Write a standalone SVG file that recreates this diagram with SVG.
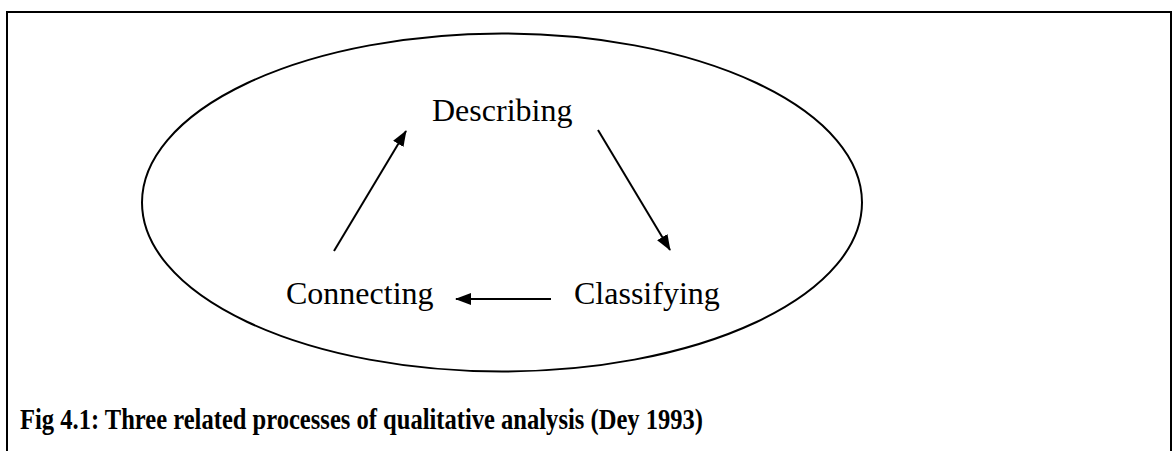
<svg xmlns="http://www.w3.org/2000/svg" width="1172" height="451" viewBox="0 0 1172 451">
<style>
.lbl{font-family:"Liberation Serif","Times New Roman",serif;font-size:32px;fill:#000}
.cap{font-family:"Liberation Serif","Times New Roman",serif;font-size:29px;font-weight:bold;fill:#000}
.conn{stroke:#000;stroke-width:2;fill:none;marker-end:url(#ah)}
</style>
<defs>
<marker id="ah" viewBox="0 0 16 12" refX="15" refY="6" markerWidth="16" markerHeight="12" markerUnits="userSpaceOnUse" orient="auto">
<path d="M0,0 L16,6 L0,12 z" fill="#000"/>
</marker>
</defs>
<rect x="0" y="0" width="1172" height="451" fill="#fff"/>
<g id="frame">
<path d="M7,460 V12 H1171 V460" fill="none" stroke="#000" stroke-width="2"/>
</g>
<g id="cycle">
<ellipse cx="502" cy="202.5" rx="360" ry="169" fill="none" stroke="#000" stroke-width="2"/>
</g>
<g id="describing"><text class="lbl" x="432" y="121">Describing</text></g>
<g id="connecting"><text class="lbl" x="286" y="304">Connecting</text></g>
<g id="classifying"><text class="lbl" x="574" y="304">Classifying</text></g>
<g id="connectors">
<line class="conn" x1="334" y1="251" x2="406" y2="131"/>
<line class="conn" x1="598" y1="130" x2="670" y2="250"/>
<line class="conn" x1="551" y1="299" x2="456" y2="299"/>
</g>
<g id="caption"><text class="cap" x="20" y="429" textLength="683" lengthAdjust="spacingAndGlyphs">Fig 4.1: Three related processes of qualitative analysis (Dey 1993)</text></g>
</svg>
